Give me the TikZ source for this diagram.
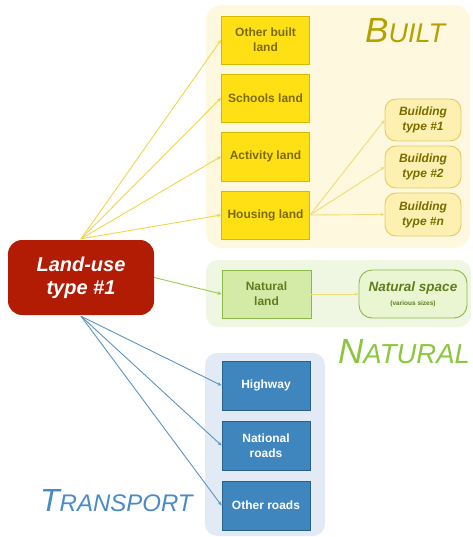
\documentclass[tikz,border=0pt]{standalone}
\usepackage{fontspec}
\setmainfont{Liberation Sans}
\usetikzlibrary{arrows.meta}
\definecolor{mainred}{HTML}{B21B04}
\definecolor{builtbg}{HTML}{FEF8DE}
\definecolor{natbg}{HTML}{EFF7E3}
\definecolor{trbg}{HTML}{E2EBF5}
\definecolor{yfill}{HTML}{FFE015}
\definecolor{ydraw}{HTML}{D6BA00}
\definecolor{ytext}{HTML}{7A6B00}
\definecolor{bfill}{HTML}{FDF0B0}
\definecolor{bdraw}{HTML}{E3CB66}
\definecolor{nfill}{HTML}{D4EBA8}
\definecolor{ndraw}{HTML}{8CB84A}
\definecolor{nsfill}{HTML}{EAF5D2}
\definecolor{ntext}{HTML}{5E7E1E}
\definecolor{tfill}{HTML}{3F86BF}
\definecolor{tdraw}{HTML}{2B5F8C}
\definecolor{yline}{HTML}{F0D64A}
\definecolor{yline2}{HTML}{F1DC78}
\definecolor{gline}{HTML}{9CC84E}
\definecolor{bline}{HTML}{5B93C3}
\definecolor{builttitle}{HTML}{B5A000}
\definecolor{nattitle}{HTML}{8CC63F}
\definecolor{trtitle}{HTML}{4A8AC6}
\tikzset{
  every node/.style={inner sep=0pt, align=center},
  ybox/.style={draw=ydraw, fill=yfill, line width=0.9pt, minimum width=88pt, minimum height=48pt,
    text=ytext, font=\bfseries\fontsize{12}{15}\selectfont},
  bbox/.style={draw=bdraw, fill=bfill, line width=0.9pt, rounded corners=11pt, minimum width=76pt, minimum height=42pt,
    text=ytext, font=\bfseries\itshape\fontsize{12}{15}\selectfont},
  nbox/.style={draw=ndraw, fill=nfill, line width=0.9pt, minimum width=89pt, minimum height=48pt,
    text=ntext, font=\bfseries\fontsize{12}{15}\selectfont},
  tbox/.style={draw=tdraw, fill=tfill, line width=0.9pt, minimum width=88pt, minimum height=49pt,
    text=white, font=\bfseries\fontsize{12}{15}\selectfont},
  conn/.style={line width=0.9pt, -{Stealth[length=4pt,width=3.5pt]}},
  bigtitle/.style={anchor=base west, font=\itshape},
}
\begin{document}
\begin{tikzpicture}[x=1pt,y=-1pt]
\useasboundingbox (0,0) rectangle (472,537);
% backgrounds
\fill[builtbg, rounded corners=16pt] (206,5) rectangle (470,248);
\fill[natbg, rounded corners=12pt] (206,260) rectangle (471,327);
\fill[trbg, rounded corners=12pt] (205,353) rectangle (325,536);
% titles
\node[bigtitle, text=builttitle] (tbuilt) at (365,43) {{\fontsize{35}{35}\selectfont B}{\fontsize{27}{27}\selectfont UILT}};
\node[bigtitle, text=nattitle] (tnat) at (338,363) {{\fontsize{35}{35}\selectfont N}{\fontsize{27.5}{27.5}\selectfont ATURAL}};
\node[bigtitle, text=trtitle] (ttr) at (40,511) {{\fontsize{32}{32}\selectfont T}{\fontsize{24}{24}\selectfont RANSPORT}};
% main node
\node[fill=mainred, rounded corners=14pt, minimum width=146pt, minimum height=75pt, text=white,
  font=\bfseries\itshape\fontsize{20}{23}\selectfont] (main) at (81,277.5) {Land-use\\type \#1};
% built
\node[ybox] (other) at (265.5,40) {Other built\\land};
\node[ybox] (schools) at (265.5,98) {Schools land};
\node[ybox, minimum height=49pt] (activity) at (265.5,156.5) {Activity land};
\node[ybox] (housing) at (265.5,215) {Housing land};
\node[bbox] (bt1) at (423,120) {Building\\type \#1};
\node[bbox] (bt2) at (423,167) {Building\\type \#2};
\node[bbox, minimum height=43pt] (btn) at (423,214.5) {Building\\type \#\textit{n}};
% natural
\node[nbox] (natland) at (266.5,294) {Natural\\land};
\node[nbox, fill=nsfill, rounded corners=13pt, minimum width=108pt] (natspace) at (413,294)
  {{\itshape\fontsize{13.5}{15}\selectfont Natural space}\\[-1pt]{\fontsize{6.5}{8}\selectfont (various sizes)}};
% transport
\node[tbox] (highway) at (266,385.5) {Highway};
\node[tbox] (national) at (266,445.5) {National\\roads};
\node[tbox] (oroads) at (266,505.5) {Other roads};
% connectors
\foreach \t in {other,schools,activity,housing}
  \draw[conn, yline] ([yshift=1pt]main.north) -- (\t.west);
\foreach \t in {bt1,bt2,btn}
  \draw[conn, yline2] (housing.east) -- (\t.west);
\draw[conn, gline] (main.east) -- (natland.west);
\draw[conn, yline2] (natland.east) -- (natspace.west);
\foreach \t in {highway,national,oroads}
  \draw[conn, bline] ([yshift=-1pt]main.south) -- (\t.west);
\end{tikzpicture}
\end{document}
